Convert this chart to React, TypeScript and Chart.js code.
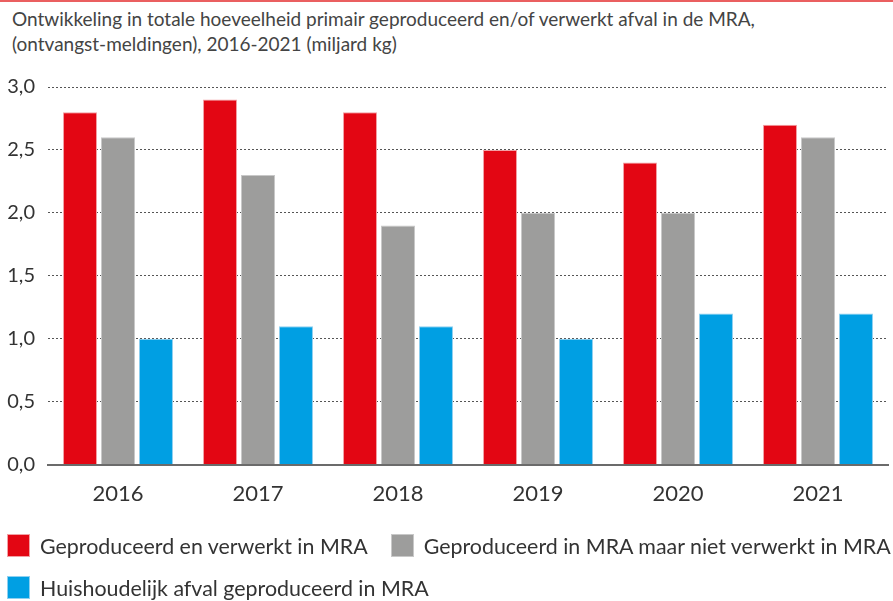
import React, { useEffect, useRef } from "react";
import { Chart, registerables } from "chart.js";

Chart.register(...registerables);

const titleLines = [
  "Ontwikkeling in totale hoeveelheid primair geproduceerd en/of verwerkt afval in de MRA,",
  "(ontvangst-meldingen), 2016-2021 (miljard kg)",
];
const categories = ["2016", "2017", "2018", "2019", "2020", "2021"];
const seriesNames = [
  "Geproduceerd en verwerkt in MRA",
  "Geproduceerd in MRA maar niet verwerkt in MRA",
  "Huishoudelijk afval geproduceerd in MRA",
];
const produceerdVerwerkt = [2.8, 2.9, 2.8, 2.5, 2.4, 2.7];
const produceerdNietVerwerkt = [2.6, 2.3, 1.9, 2.0, 2.0, 2.6];
const huishoudelijk = [1.0, 1.1, 1.1, 1.0, 1.2, 1.2];
const seriesColors = ["#e30613", "#9d9d9c", "#009fe3"];
const seriesBorders = ["#f2a0a4", "#c8c8c8", "#8fd0f0"];
const yTicks = [0, 0.5, 1, 1.5, 2, 2.5, 3];

const FONT = "Lato, 'Open Sans', sans-serif";

export default function App() {
  const canvasRef = useRef<HTMLCanvasElement | null>(null);

  useEffect(() => {
    document.body.style.margin = "0";
    const ctx = canvasRef.current;
    if (!ctx) return;
    const allSeries = [produceerdVerwerkt, produceerdNietVerwerkt, huishoudelijk];
    const chart = new Chart(ctx, {
      type: "bar",
      data: {
        labels: categories,
        datasets: allSeries.map((d, i) => ({
          label: seriesNames[i],
          data: d,
          backgroundColor: seriesColors[i],
          borderColor: seriesBorders[i],
          borderWidth: 1,
          borderSkipped: "start",
          categoryPercentage: 0.814,
          barPercentage: 0.895,
        })),
      },
      options: {
        animation: false,
        responsive: false,
        maintainAspectRatio: false,
        layout: { padding: { top: 27, right: 5, bottom: 13, left: 0 } },
        plugins: {
          legend: { display: false },
          title: { display: false },
          tooltip: { enabled: false },
        },
        scales: {
          x: {
            grid: { display: false, drawTicks: false },
            border: { display: true, color: "#6b6b6b", width: 2 },
            ticks: {
              color: "#333333",
              font: { family: FONT, size: 22 },
              padding: 16,
            },
          },
          y: {
            min: 0,
            max: 3,
            afterBuildTicks: (scale: any) => {
              scale.ticks = yTicks.map((v) => ({ value: v }));
            },
            afterFit: (scale: any) => {
              scale.width = 48;
            },
            grid: {
              drawTicks: false,
              color: (c: any) => (c.tick && c.tick.value === 0 ? "rgba(0,0,0,0)" : "#555555"),
              lineWidth: 1,
            },
            border: { display: false, dash: [2, 2] },
            ticks: {
              color: "#333333",
              font: { family: FONT, size: 20 },
              padding: 13,
              callback: (v: any) => Number(v).toFixed(1).replace(".", ","),
            },
          },
        },
      },
    });
    return () => chart.destroy();
  }, []);

  return (
    <div
      style={{
        position: "relative",
        width: 893,
        height: 601,
        overflow: "hidden",
        background: "#ffffff",
        fontFamily: FONT,
      }}
    >
      <div style={{ position: "absolute", left: 0, top: 0, width: 893, height: 2, background: "#ea5f60" }} />
      <div
        style={{
          position: "absolute",
          left: 12,
          top: 6,
          fontSize: 19,
          lineHeight: "25px",
          color: "#444444",
          whiteSpace: "nowrap",
        }}
      >
        {titleLines.map((t, i) => (
          <div key={i}>{t}</div>
        ))}
      </div>
      <div style={{ position: "absolute", left: 0, top: 60, width: 893, height: 476 }}>
        <canvas ref={canvasRef} width={893} height={476} style={{ display: "block" }} />
      </div>
      <div
        style={{
          position: "absolute",
          left: 7,
          top: 534,
          width: 886,
          display: "flex",
          flexWrap: "wrap",
          rowGap: 19,
          columnGap: 23,
          fontSize: 21.4,
          color: "#333333",
        }}
      >
        {seriesNames.map((n, i) => (
          <div key={i} style={{ display: "flex", alignItems: "center", height: 23, whiteSpace: "nowrap" }}>
            <span
              style={{
                display: "inline-block",
                width: 23,
                height: 23,
                background: seriesColors[i],
                boxSizing: "border-box",
                border: `1px solid ${seriesBorders[i]}`,
                marginRight: 10,
              }}
            />
            <span>{n}</span>
          </div>
        ))}
      </div>
    </div>
  );
}
